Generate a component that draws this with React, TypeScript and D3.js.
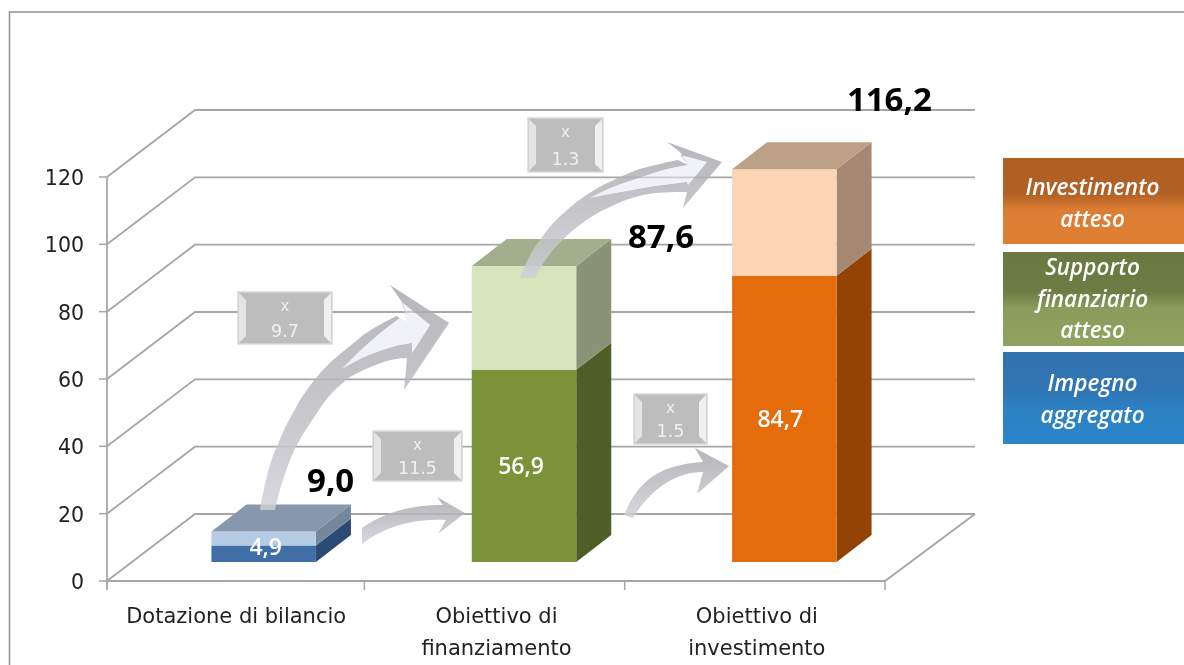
import React from "react";
import * as d3 from "d3";

const categories = ["Dotazione di bilancio", "Obiettivo di finanziamento", "Obiettivo di investimento"];
const categoryLines = [["Dotazione di bilancio"], ["Obiettivo di", "finanziamento"], ["Obiettivo di", "investimento"]];
const committed = [4.9, 56.9, 84.7];
const totals = [9.0, 87.6, 116.2];
const committedLabels = ["4,9", "56,9", "84,7"];
const totalLabels = ["9,0", "87,6", "116,2"];
const yTicks = [0, 20, 40, 60, 80, 100, 120];

const multipliers = [
  { t: "9.7", x: 238, y: 292, w: 94, h: 52 },
  { t: "11.5", x: 373, y: 431, w: 89, h: 50 },
  { t: "1.3", x: 528, y: 118, w: 75, h: 54 },
  { t: "1.5", x: 634, y: 394, w: 73, h: 50 },
];

const legend = [
  { lines: ["Investimento", "atteso"], y: 158, h: 86, a: "#ae5f24", b: "#b26125", c: "#dc7d33", d: "#de7f33", base: [195, 227] },
  { lines: ["Supporto", "finanziario", "atteso"], y: 252, h: 94, a: "#69793f", b: "#6c7c44", c: "#8a9d5c", d: "#8fa260", base: [275, 307, 338] },
  { lines: ["Impegno", "aggregato"], y: 352, h: 92, a: "#3172ae", b: "#3076b4", c: "#2c80c2", d: "#2b86cc", base: [391, 423] },
];

const palettes = [
  { low: "#3f6fa6", lowSide: "#2b4a74", high: "#b6cce5", highSide: "#75879a", top: "#8898ac" },
  { low: "#7a9339", lowSide: "#4d5f27", high: "#d7e4bc", highSide: "#8a9278", top: "#a3af8c" },
  { low: "#e46c0a", lowSide: "#934405", high: "#fcd5b5", highSide: "#a48872", top: "#bda186" },
];

// Hand-placed callout arrows (outer outline, optional inner hole)
const arrowHoles = [
  "M342,369 C360,350 380,332 400,318 L407,322 L403,303 L430,325 L412,353 L412,343 C392,345 362,356 342,369 Z",
  "",
  "M590,198 C605,190 615,186 627,182 C645,176 660,170 677,167 L688,165 L680,155 L707,162 L688,185 L687,182 C672,184 658,185 643,188 C625,191 605,195 590,198 Z",
  "",
];
const arrows = [
  "M260,510 C265,480 272,455 277,447 C285,425 295,410 300,400 C312,382 322,370 333,360 C345,350 355,342 363,335 C375,327 385,322 396,316 L407,322 L402,302 L390,285 L449,323 L404,390 L407,358 C390,358 370,366 350,377 C335,388 325,400 317,413 C305,430 298,442 293,453 C285,472 279,490 275,510 Z",
  "M362,528 C385,512 410,505 443,505 L437,497 L465,513 L438,534 L446,520 C415,518 385,526 362,544 Z",
  "M520,278 C526,262 532,250 540,240 C548,228 557,218 567,210 C578,200 590,192 603,185 C618,178 630,172 643,168 C655,165 668,162 678,160 L688,165 L680,152 L667,142 L722,162 L683,208 L687,192 C672,192 658,192 643,195 C630,198 620,202 610,207 C598,212 587,219 577,227 C568,234 560,242 553,250 C546,258 540,268 535,278 Z",
  "M624,515 C635,490 650,465 703,462 L695,448 L729,466 L697,494 L703,472 C675,472 650,490 633,518 Z",
];

const frontLeft = 107, frontRight = 885, depthX = 88, depthY = 67;
const barDx = 35, barDy = 27, barShift = 29.5;

const x = d3.scaleBand<string>().domain(categories).range([104, frontRight]).paddingInner(0.5986).paddingOuter(0.2993);
const y = d3.scaleLinear().domain([0, 120]).range([581, 177]);
const yBar = d3.scaleLinear().domain([0, 120]).range([562, 156.4]);
const poly = d3.line<[number, number]>();
const font = "'Open Sans', sans-serif";
const axisFont = "'DejaVu Sans', sans-serif";
const gridColor = "#a6a6a6";

function Bar({ i }: { i: number }) {
  const c = categories[i], p = palettes[i];
  const x0 = (x(c) as number) + barShift, w = x.bandwidth(), x1 = x0 + w;
  const segs = [
    { a: 0, b: committed[i], f: p.low, s: p.lowSide },
    { a: committed[i], b: totals[i], f: p.high, s: p.highSide },
  ];
  const top = yBar(totals[i]);
  return (
    <g>
      {segs.map((s, k) => (
        <g key={k}>
          <path d={poly([[x1, yBar(s.a)], [x1 + barDx, yBar(s.a) - barDy], [x1 + barDx, yBar(s.b) - barDy], [x1, yBar(s.b)]]) as string} fill={s.s} />
          <rect x={x0} y={yBar(s.b)} width={w} height={yBar(s.a) - yBar(s.b)} fill={s.f} />
        </g>
      ))}
      <path d={poly([[x0, top], [x0 + barDx, top - barDy], [x1 + barDx, top - barDy], [x1, top]]) as string} fill={p.top} />
    </g>
  );
}

export default function App() {
  return (
    <svg width={1184} height={665} style={{ position: "absolute", left: 0, top: 0, filter: "blur(0.45px)" }}>
      <defs>
        <linearGradient id="arrowFill" x1="0" y1="0" x2="0" y2="1">
          <stop offset="0" stopColor="#a8a8ae" />
          <stop offset="0.55" stopColor="#bcbcc2" />
          <stop offset="1" stopColor="#d0d0d8" />
        </linearGradient>
        {legend.map((l, i) => (
          <linearGradient key={i} id={`lg${i}`} x1="0" y1="0" x2="0" y2="1">
            <stop offset="0" stopColor={l.a} />
            <stop offset="0.42" stopColor={l.b} />
            <stop offset="0.6" stopColor={l.c} />
            <stop offset="1" stopColor={l.d} />
          </linearGradient>
        ))}
      </defs>
      <rect width={1184} height={665} fill="#fff" />
      <path d="M9.5,665 V12 H1184" fill="none" stroke="#8f8f8f" strokeWidth={1.5} />

      {yTicks.map((t) => (
        <g key={t}>
          <path
            d={poly([[frontLeft, y(t)], [frontLeft + depthX, y(t) - depthY], [frontRight + depthX + 2, y(t) - depthY]]) as string}
            fill="none" stroke={gridColor} strokeWidth={1.8}
          />
          <line x1={frontLeft - 8} x2={frontLeft} y1={y(t)} y2={y(t)} stroke={gridColor} strokeWidth={1.5} />
          <text x={84} y={y(t) + 8} textAnchor="end" fontFamily={axisFont} fontSize={20.5} fill="#222">{t}</text>
        </g>
      ))}
      <line x1={frontLeft} x2={frontLeft} y1={y(120)} y2={y(0) + 9} stroke={gridColor} strokeWidth={1.8} />
      <path d={poly([[frontLeft, y(0)], [frontRight, y(0)], [frontRight + depthX + 2, y(0) - depthY]]) as string} fill="none" stroke={gridColor} strokeWidth={1.8} />
      {categories.map((c) => {
        const right = (x(c) as number) + x.bandwidth() + (x.step() - x.bandwidth()) / 2;
        return <line key={c} x1={right} x2={right} y1={y(0)} y2={y(0) + 9} stroke={gridColor} strokeWidth={1.5} />;
      })}

      {categories.map((c, i) => (
        <g key={c}>
          {categoryLines[i].map((ln, k) => (
            <text key={k} x={(x(c) as number) + x.bandwidth() / 2 + 2} y={623 + k * 32} textAnchor="middle" fontFamily={axisFont} fontSize={21} fill="#222">{ln}</text>
          ))}
        </g>
      ))}

      {categories.map((c, i) => <Bar key={c} i={i} />)}

      {arrows.map((d, i) => (
        <g key={i}>
          <path d={`${d} ${arrowHoles[i]}`} fill="url(#arrowFill)" fillRule="evenodd" opacity={0.84} />
          {arrowHoles[i] ? <path d={arrowHoles[i]} fill="#e6e6f2" opacity={0.55} /> : null}
        </g>
      ))}

      {multipliers.map((m) => {
        const b = 8;
        return (
          <g key={m.t}>
            <rect x={m.x} y={m.y} width={m.w} height={m.h} fill="#bdbdbd" stroke="#d9d9d9" strokeWidth={1.5} />
            <path d={poly([[m.x + 1, m.y + 1], [m.x + b, m.y + b], [m.x + b, m.y + m.h - b], [m.x + 1, m.y + m.h - 1]]) as string} fill="#e4e4e4" />
            <path d={poly([[m.x + m.w - 1, m.y + 1], [m.x + m.w - b, m.y + b], [m.x + m.w - b, m.y + m.h - b], [m.x + m.w - 1, m.y + m.h - 1]]) as string} fill="#f0f0f0" />
            <text x={m.x + m.w / 2} y={m.y + 19} textAnchor="middle" fontFamily={axisFont} fontSize={15} fill="#f0f0f0">x</text>
            <text x={m.x + m.w / 2} y={m.y + m.h - 7} textAnchor="middle" fontFamily={axisFont} fontSize={17.5} fill="#f0f0f0">{m.t}</text>
          </g>
        );
      })}

      {categories.map((c, i) => {
        const cx = (x(c) as number) + barShift + x.bandwidth() / 2;
        const baseY = yBar(committed[i] / 2) + 8 + [-7, 0, 0][i];
        const dx = [2, -3, -4][i];
        return <text key={c} x={cx + dx} y={baseY} textAnchor="middle" fontFamily={font} fontWeight={600} fontSize={23} fill="#fff">{committedLabels[i]}</text>;
      })}

      {categories.map((c, i) => {
        const cx = (x(c) as number) + barShift + x.bandwidth() / 2;
        const pos = [[67, 492], [137, 248], [105, 111]][i];
        return <text key={c} x={cx + pos[0]} y={pos[1]} textAnchor="middle" fontFamily={font} fontWeight={700} fontSize={33} fill="#000">{totalLabels[i]}</text>;
      })}

      {legend.map((l, i) => (
        <g key={i}>
          <rect x={1003} y={l.y} width={181} height={l.h} fill={`url(#lg${i})`} />
          {l.lines.map((ln, k) => (
            <text key={k} x={1092.5} y={l.base[k]} textAnchor="middle" fontFamily={font} fontStyle="italic" fontWeight={600} fontSize={22.5} fill="#fff">{ln}</text>
          ))}
        </g>
      ))}
    </svg>
  );
}
